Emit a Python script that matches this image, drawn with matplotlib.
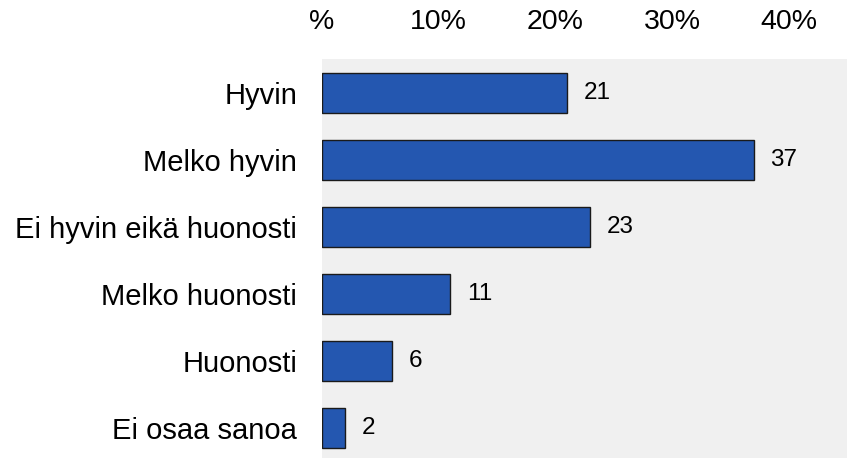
import matplotlib
matplotlib.use("Agg")
import matplotlib.pyplot as plt

# survey answers, percent
categories = ['Hyvin', 'Melko hyvin', 'Ei hyvin eikä huonosti',
              'Melko huonosti', 'Huonosti', 'Ei osaa sanoa']
values = [21, 37, 23, 11, 6, 2]
tick_values = [0, 10, 20, 30, 40]
tick_labels = ['%', '10%', '20%', '30%', '40%']

plt.rcParams['font.family'] = ['Liberation Sans', 'DejaVu Sans']

fig = plt.figure(figsize=(8.47, 4.58), dpi=100)
ax = fig.add_axes([322 / 847, 0, 1 - 322 / 847, 399 / 458])
ax.set_facecolor('#f0f0f0')

y = list(range(len(categories)))
bars = ax.barh(y, values, height=0.6, color='#2457b0',
               edgecolor='#1a1a1a', linewidth=1)
ax.bar_label(bars, labels=[str(v) for v in values], padding=12, fontsize=17.5)

ax.set_yticks(y)
ax.set_yticklabels(categories, fontsize=21)
ax.set_ylim(5.45, -0.51)

ax.set_xlim(0, 45)
ax.xaxis.tick_top()
ax.set_xticks(tick_values)
ax.set_xticklabels(tick_labels, fontsize=20.5)

ax.tick_params(axis='y', length=0, pad=18)
ax.tick_params(axis='x', length=0, pad=17)
for s in ax.spines.values():
    s.set_visible(False)

fig.savefig('out.png', dpi=100)
